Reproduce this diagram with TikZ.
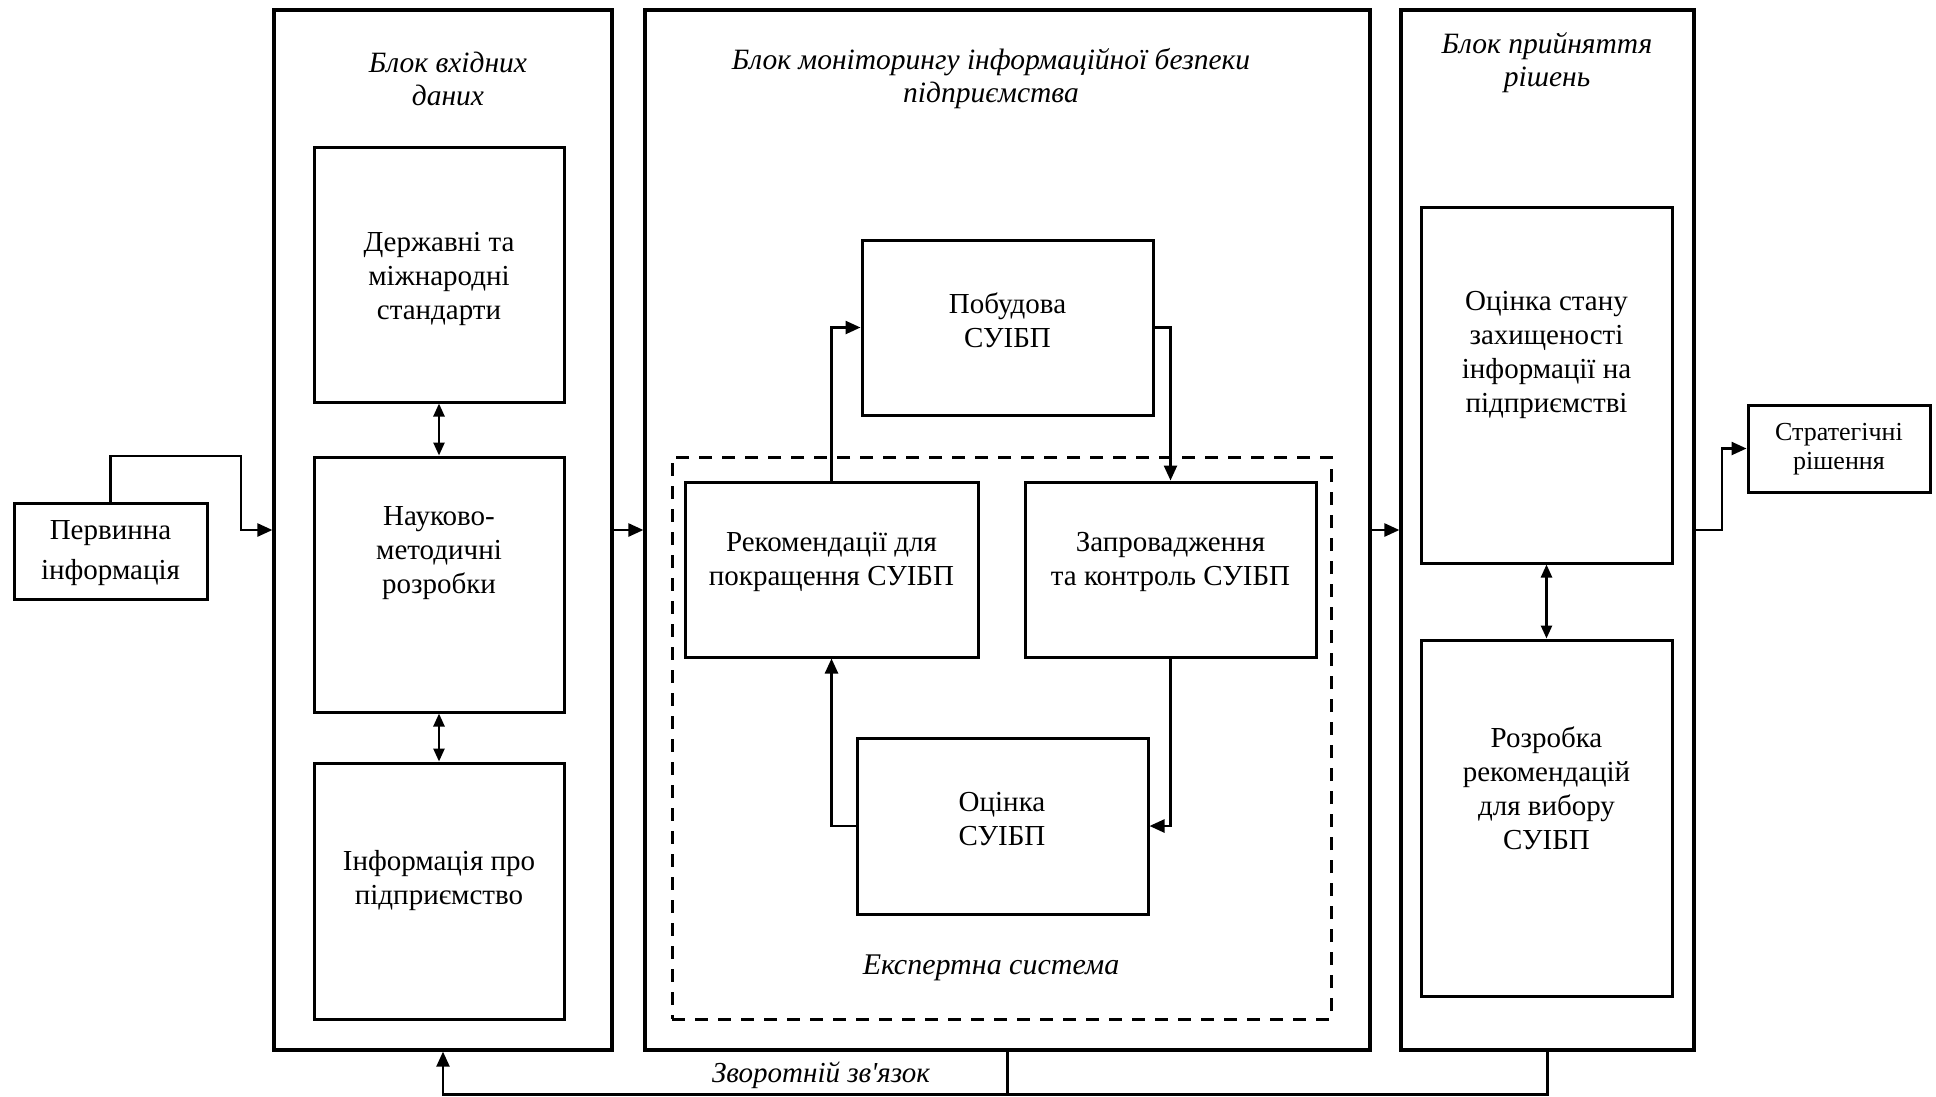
\documentclass[tikz,border=0pt]{standalone}
\usepackage{fontspec}
\setmainfont{Liberation Serif}[Ligatures=TeXOff]
\usetikzlibrary{arrows.meta}
\begin{document}
\begin{tikzpicture}[x=1pt,y=-1pt,
  blk/.style={draw, line width=3.2pt, inner sep=0pt},
  box/.style={draw, line width=3pt, inner sep=0pt},
  dbox/.style={draw, line width=3pt, dash pattern=on 13pt off 10pt, inner sep=0pt},
  txt/.style={align=center, font=\fontsize{29}{34}\selectfont, inner sep=0pt},
  ttl/.style={align=center, font=\fontsize{29.5}{33}\selectfont\itshape, inner sep=0pt},
  arr/.style={line width=2.5pt, -{Triangle[length=15pt,width=13pt]}},
  dbl/.style={line width=2.5pt, {Triangle[length=13pt,width=11pt]}-{Triangle[length=13pt,width=11pt]}},
  ln/.style={line width=2.2pt}]
\useasboundingbox (0,0) rectangle (1936,1096);
% outer blocks
\node[blk, minimum width=338pt, minimum height=1040pt] (inL) at (443,530) {};
\node[blk, minimum width=725pt, minimum height=1040pt] (inM) at (1007.5,530) {};
\node[blk, minimum width=293pt, minimum height=1040pt] (inR) at (1547.5,530) {};
\node[ttl] (tL) at (448,78.5) {Блок вхідних\\даних};
\node[ttl] (tM) at (991,78.5) {Блок моніторингу інформаційної безпеки\\підприємства};
\node[ttl] (tR) at (1547,62.5) {Блок прийняття\\рішень};
% input
\node[box, minimum width=193pt, minimum height=96pt] (prim) at (110.5,551) {};
\node[txt, font=\fontsize{29}{40}\selectfont] (primt) at (110.5,553) {Первинна\\інформація};
% output
\node[box, minimum width=182pt, minimum height=87pt] (strat) at (1839,448.5) {};
\node[txt, font=\fontsize{26}{29}\selectfont] (stratt) at (1839,449.5) {Стратегічні\\рішення};
% left block
\node[box, minimum width=250pt, minimum height=255pt] (s1) at (439,274.5) {};
\node[box, minimum width=250pt, minimum height=255pt] (s2) at (439,584.5) {};
\node[box, minimum width=250pt, minimum height=256pt] (s3) at (439,891) {};
\node[txt] (s1t) at (439,279) {Державні та\\міжнародні\\стандарти};
\node[txt] (s2t) at (439,553) {Науково-\\методичні\\розробки};
\node[txt] (s3t) at (439,880.5) {Інформація про\\підприємство};
% middle block
\node[dbox, minimum width=659pt, minimum height=562pt] (exp) at (1001.5,738) {};
\node[box, minimum width=291pt, minimum height=175pt] (build) at (1007.5,327.5) {};
\node[box, minimum width=293pt, minimum height=175pt] (rec) at (831.5,569.5) {};
\node[box, minimum width=291pt, minimum height=175pt] (impl) at (1170.5,569.5) {};
\node[box, minimum width=291pt, minimum height=176pt] (eval) at (1002.5,826) {};
\node[txt] (buildt) at (1007.5,320.5) {Побудова\\СУІБП};
\node[txt] (rect) at (831.5,561.5) {Рекомендації для\\покращення СУІБП};
\node[txt] (implt) at (1170.5,561.5) {Запровадження\\та контроль СУІБП};
\node[txt] (evalt) at (1002,819) {Оцінка\\СУІБП};
\node[ttl, font=\fontsize{30}{33}\selectfont\itshape] (expt) at (991,968) {Експертна система};
% right block
\node[box, minimum width=251pt, minimum height=356pt] (r1) at (1546.5,385) {};
\node[box, minimum width=251pt, minimum height=356pt] (r2) at (1546.5,818) {};
\node[txt] (r1t) at (1546.5,354.5) {Оцінка стану\\захищеності\\інформації на\\підприємстві};
\node[txt] (r2t) at (1546.5,788.5) {Розробка\\рекомендацій\\для вибору\\СУІБП};
% feedback label
\node[ttl, font=\fontsize{29}{33}\selectfont\itshape] (fbt) at (821,1075) {Зворотній зв'язок};
% coordinates
\coordinate (c1) at (241,456);
\coordinate (c2) at (1722,448.5);
\coordinate (fbL) at (443,1094.5);
% connectors
\draw[arr] (prim.north) |- (c1) |- (inL.west);
\draw[arr] (inL.east) -- (inM.west);
\draw[arr] (inM.east) -- (inR.west);
\draw[arr] (inR.east) -| (c2) -- (strat.west);
\draw[dbl] (s1.south) -- (s2.north);
\draw[dbl] (s2.south) -- (s3.north);
\draw[dbl] (r1.south) -- (r2.north);
\draw[arr] (rec.north) |- (build.west);
\draw[arr] (build.east) -| (impl.north);
\draw[arr] (impl.south) |- (eval.east);
\draw[arr] (eval.west) -| (rec.south);
\draw[ln, -{Triangle[length=15pt,width=13pt]}] (inR.south) |- (fbL) -- (inL.south);
\draw[ln] (inM.south) -- (inM.south |- fbL);
\end{tikzpicture}
\end{document}
